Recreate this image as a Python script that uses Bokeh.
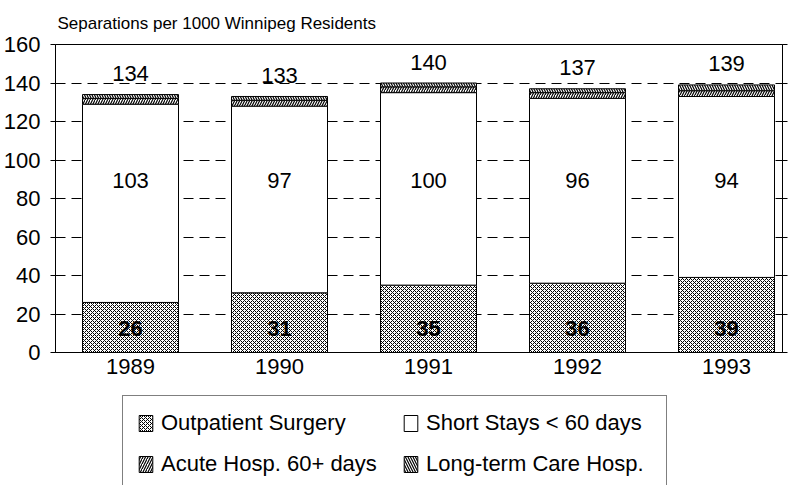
from bokeh.plotting import figure
from bokeh.models import (ColumnDataSource, Range1d, FixedTicker, LinearAxis,
                          Legend, LegendItem)
from bokeh.layouts import column
from bokeh.core.properties import value
from bokeh.embed import file_html
from bokeh.resources import INLINE

# ---- data ----
years = ["1989", "1990", "1991", "1992", "1993"]
outpatient = [26, 31, 35, 36, 39]
short_stays = [103, 97, 100, 96, 94]
acute_60 = [3, 3, 3, 3, 3]
long_term = [2, 2, 2, 2, 3]
totals = [134, 133, 140, 137, 139]
y_ticks = [0, 20, 40, 60, 80, 100, 120, 140, 160]
series_names = ["Outpatient Surgery", "Short Stays < 60 days",
                "Acute Hosp. 60+ days", "Long-term Care Hosp."]

FONT = "Liberation Sans"

xs = list(range(1, len(years) + 1))
b1 = [0] * len(xs)
t1 = [b + v for b, v in zip(b1, outpatient)]
t2 = [b + v for b, v in zip(t1, short_stays)]
t3 = [b + v for b, v in zip(t2, acute_60)]
t4 = [b + v for b, v in zip(t3, long_term)]

src = ColumnDataSource(dict(
    x=xs, b1=b1, t1=t1, t2=t2, t3=t3, t4=t4,
    total_lbl=[str(v) for v in totals],
    short_lbl=[str(v) for v in short_stays],
    out_lbl=[str(v) for v in outpatient],
    totals=totals,
    short_y=[89.5] * len(xs),
    out_y=[12.5] * len(xs),
))

p = figure(width=791, height=382,
           x_range=Range1d(1 - 75 / 149, 1 - 75 / 149 + 727 / 149),
           y_range=Range1d(0, 160),
           output_backend="svg", toolbar_location=None,
           min_border_left=55, min_border_right=9,
           min_border_top=44, min_border_bottom=30)
p.background_fill_color = "white"
p.border_fill_color = "white"
p.outline_line_color = "black"
p.outline_line_width = 1

W = 96 / 149
styles = [
    dict(hatch_pattern="diagonal_cross", hatch_scale=4, hatch_weight=1),
    dict(),
    dict(hatch_pattern="right_diagonal_line", hatch_scale=5, hatch_weight=1.2),
    dict(hatch_pattern="left_diagonal_line", hatch_scale=5, hatch_weight=1.2),
]
common = dict(line_color="black", line_width=1, fill_color="white",
              hatch_color="black")
segs = [("b1", "t1"), ("t1", "t2"), ("t2", "t3"), ("t3", "t4")]
for (bo, to), st in zip(segs, styles):
    p.vbar(x="x", bottom=bo, top=to, width=W, source=src, **common, **st)

txt = dict(text_font_size="22px", text_color="black",
           text_align="center", text_baseline="middle")
p.text(x="x", y="totals", text="total_lbl", source=src, y_offset=-21,
       text_font=value(FONT), **txt)
p.text(x="x", y="short_y", text="short_lbl", source=src,
       text_font=value(FONT), **txt)
p.text(x="x", y="out_y", text="out_lbl", source=src, text_font_style="bold",
       text_font=value(FONT), **txt)

# axes
p.xaxis.ticker = FixedTicker(ticks=xs)
p.xaxis.major_label_overrides = {x: y for x, y in zip(xs, years)}
p.xaxis.major_tick_out = 0
p.xaxis.major_tick_in = 0
p.xaxis.minor_tick_line_color = None
p.xaxis.axis_line_color = "black"
p.xaxis.major_label_standoff = 6
p.xaxis.major_label_text_font = FONT
p.xaxis.major_label_text_font_size = "22px"
p.xaxis.major_label_text_color = "black"

p.yaxis.ticker = FixedTicker(ticks=y_ticks)
p.yaxis.major_tick_out = 5
p.yaxis.major_tick_in = 0
p.yaxis.minor_tick_line_color = None
p.yaxis.axis_line_color = "black"
p.yaxis.major_tick_line_color = "black"
p.yaxis.major_label_standoff = 10
p.yaxis.major_label_text_font = FONT
p.yaxis.major_label_text_font_size = "22px"
p.yaxis.major_label_text_color = "black"

ry = LinearAxis(ticker=FixedTicker(ticks=y_ticks), major_tick_out=5,
                major_tick_in=0,
                major_label_overrides={t: "" for t in y_ticks},
                major_label_standoff=0, axis_line_color="black",
                minor_tick_line_color=None)
p.add_layout(ry, "right")

p.xgrid.grid_line_color = None
p.ygrid.ticker = FixedTicker(ticks=y_ticks)
p.ygrid.grid_line_color = "black"
p.ygrid.grid_line_dash = "10 6"
p.ygrid.grid_line_width = 1

p.title.text = "Separations per 1000 Winnipeg Residents"
p.title.text_font = FONT
p.title.text_font_size = "17px"
p.title.text_font_style = "normal"
p.title.text_color = "black"
p.title.align = "left"
p.title.offset = 2
p.title.standoff = 23

# ---- legend panel (separate figure holding hidden swatch renderers) ----
lg = figure(width=791, height=103, x_range=Range1d(0, 1),
            y_range=Range1d(0, 1), output_backend="svg",
            toolbar_location=None, x_axis_location=None,
            y_axis_location=None, min_border=0)
lg.outline_line_color = None
lg.xgrid.visible = False
lg.ygrid.visible = False
lg.background_fill_color = "white"
lg.border_fill_color = "white"

items = []
for (bo, to), name, st in zip(segs, series_names, styles):
    r = lg.vbar(x="x", bottom=bo, top=to, width=W, source=src,
                visible=False, **common, **st)
    items.append(LegendItem(label=name, renderers=[r]))

legend = Legend(items=items, location=(67, -7), orientation="horizontal",
                ncols=2, padding=14, spacing=15, margin=0,
                glyph_width=17, glyph_height=20, label_height=20,
                label_width=226, label_standoff=7,
                label_text_font=FONT, label_text_font_size="22px",
                label_text_color="black",
                inactive_fill_alpha=0,
                border_line_color="black", border_line_width=1,
                background_fill_color="white", background_fill_alpha=1)
lg.add_layout(legend, "center")

layout = column(p, lg, spacing=0)
open("out.html", "w").write(file_html(layout, INLINE))
